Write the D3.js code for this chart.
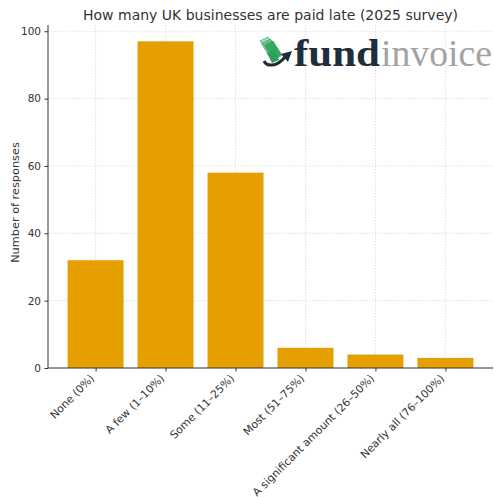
<!DOCTYPE html>
<html>
<head>
<meta charset="utf-8">
<script src="https://cdn.jsdelivr.net/npm/d3@7"></script>
<style>
  body { margin: 0; background: #fff; }
  text { font-family: "DejaVu Sans", sans-serif; }
</style>
</head>
<body>
<svg width="494" height="497"></svg>
<script>
// survey categories and counts
const categories = [
  "None (0%)",
  "A few (1\u201310%)",
  "Some (11\u201325%)",
  "Most (51\u201375%)",
  "A significant amount (26\u201350%)",
  "Nearly all (76\u2013100%)"
];
const responses = [32, 97, 58, 6, 4, 3];
const yTicks = [0, 20, 40, 60, 80, 100];

const svg = d3.select("svg");
const width = +svg.attr("width");
const height = +svg.attr("height");

const margin = { top: 25, right: 1, bottom: 129, left: 48 };
const innerWidth = width - margin.left - margin.right;
const innerHeight = height - margin.top - margin.bottom;

// x uses category index, like matplotlib
const xScale = d3.scaleLinear()
  .domain([-0.68, categories.length - 1 + 0.68])
  .range([0, innerWidth]);
const barWidth = (xScale(1) - xScale(0)) * 0.8;

const yScale = d3.scaleLinear()
  .domain([0, d3.max(responses) * 1.05])
  .range([innerHeight, 0]);

const g = svg.append("g")
  .attr("transform", `translate(${margin.left},${margin.top})`);

// grid
g.append("g")
  .selectAll("line")
  .data(yTicks)
  .join("line")
  .attr("x1", 0).attr("x2", innerWidth)
  .attr("y1", d => yScale(d)).attr("y2", d => yScale(d))
  .attr("stroke", "#d8d8d8").attr("stroke-width", 0.8)
  .attr("stroke-dasharray", "1.5,1.5");
g.append("g")
  .selectAll("line")
  .data(categories)
  .join("line")
  .attr("x1", (d, i) => xScale(i)).attr("x2", (d, i) => xScale(i))
  .attr("y1", 0).attr("y2", innerHeight)
  .attr("stroke", "#d8d8d8").attr("stroke-width", 0.8)
  .attr("stroke-dasharray", "1.5,1.5");

// logo (drawn behind bars)
const logo = svg.append("g").attr("transform", "translate(255,35)");
const notes = ["#a8dcb8", "#6cc58b", "#35a862"];
notes.forEach((c, i) => {
  logo.append("path")
    .attr("d", `M${5 + i * 2.5},${6 + i * 2} l8,-4 l9,14 l-8,5 z`)
    .attr("fill", c).attr("stroke", "#2e9a57").attr("stroke-width", 0.6);
});
logo.append("path")
  .attr("d", "M12,18 l8,-3 l4,10 l-7,3 z")
  .attr("fill", "#2f9e5b");
logo.append("path")
  .attr("d", "M9,26 C12,32 22,32 30,22")
  .attr("fill", "none").attr("stroke", "#1f2d3d").attr("stroke-width", 3);
logo.append("path")
  .attr("d", "M26,19 L37,16 L33,27 Z")
  .attr("fill", "#1f2d3d");
svg.append("text")
  .attr("x", 294).attr("y", 66)
  .attr("textLength", 86).attr("lengthAdjust", "spacingAndGlyphs")
  .style("font-family", "'Liberation Serif', 'DejaVu Serif', serif")
  .style("font-size", "38px").style("font-weight", "bold")
  .attr("fill", "#1f2d3d")
  .text("fund");
svg.append("text")
  .attr("x", 381).attr("y", 66)
  .attr("textLength", 111).attr("lengthAdjust", "spacingAndGlyphs")
  .style("font-family", "'Liberation Serif', 'DejaVu Serif', serif")
  .style("font-size", "38px")
  .attr("fill", "#a3a3a3")
  .text("invoice");

// bars
g.selectAll("rect.bar")
  .data(responses)
  .join("rect")
  .attr("class", "bar")
  .attr("x", (d, i) => xScale(i) - barWidth / 2)
  .attr("y", d => yScale(d))
  .attr("width", barWidth)
  .attr("height", d => innerHeight - yScale(d))
  .attr("fill", "#E69F00");

// y axis
const yAxisG = g.append("g")
  .call(d3.axisLeft(yScale).tickValues(yTicks).tickSize(3.5).tickPadding(3.5));
yAxisG.select(".domain").attr("stroke", "#333").attr("d", `M0,${innerHeight}V0`);
yAxisG.selectAll(".tick line").attr("stroke", "#333");
yAxisG.selectAll(".tick text").attr("fill", "#333").style("font-size", "10.5px");

// x axis
const xAxisG = g.append("g")
  .attr("transform", `translate(0,${innerHeight})`)
  .call(d3.axisBottom(xScale)
    .tickValues(d3.range(categories.length))
    .tickSize(3.5)
    .tickFormat(i => categories[i]));
xAxisG.select(".domain").attr("stroke", "#333").attr("d", `M0,0H${innerWidth}`);
xAxisG.selectAll(".tick line").attr("stroke", "#333");
xAxisG.selectAll(".tick text")
  .attr("fill", "#333")
  .style("font-size", "10.8px")
  .attr("text-anchor", "end")
  .attr("dy", null)
  .attr("y", 0)
  .attr("transform", "translate(-1,11) rotate(-45)");

// y label
svg.append("text")
  .attr("transform", `translate(19,${margin.top + innerHeight / 2 + 6}) rotate(-90)`)
  .attr("text-anchor", "middle")
  .attr("fill", "#333")
  .style("font-size", "11.3px")
  .text("Number of responses");

// title
svg.append("text")
  .attr("x", margin.left + innerWidth / 2)
  .attr("y", 20)
  .attr("text-anchor", "middle")
  .attr("fill", "#333")
  .style("font-size", "14px")
  .text("How many UK businesses are paid late (2025 survey)");
</script>
</body>
</html>
